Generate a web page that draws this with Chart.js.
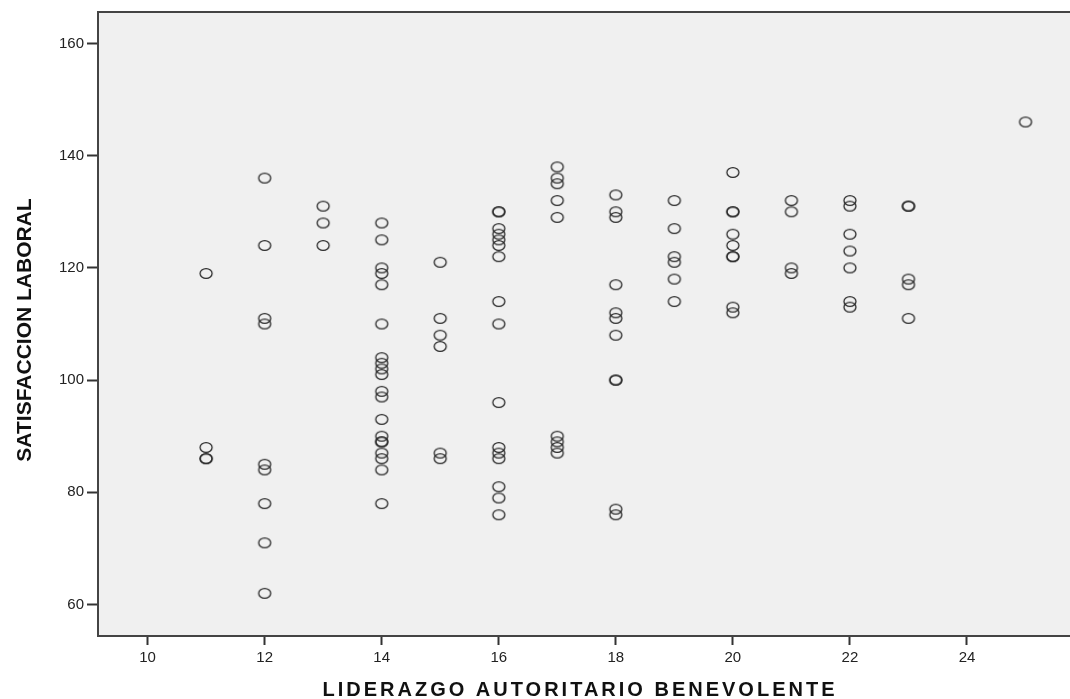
<!DOCTYPE html>
<html lang="es">
<head>
  <meta charset="UTF-8" />
  <title>Satisfaccion laboral vs liderazgo</title>
  <script src="https://cdn.jsdelivr.net/npm/chart.js"></script>
  <style>
    body {
      margin: 0;
      background: #ffffff;
    }
    .wrap {
      width: 1070px;
      height: 699px;
    }
  </style>
</head>
<body>
  <div class="wrap">
    <canvas id="scatter"></canvas>
  </div>

  <script>
    // liderazgo autoritario benevolente (x) and the satisfaccion scores seen at each x
    const xLevels = [11, 12, 13, 14, 15, 16, 17, 18, 19, 20, 21, 22, 23, 25];
    const satisfaction = [
      [119, 88, 86, 86],
      [136, 124, 111, 110, 85, 84, 78, 71, 62],
      [131, 128, 124],
      [128, 125, 120, 119, 117, 110, 104, 103, 102, 101, 98, 97, 93, 90, 89, 89, 87, 86, 84, 78],
      [121, 111, 108, 106, 87, 86],
      [130, 130, 127, 126, 125, 124, 122, 114, 110, 96, 88, 87, 86, 81, 79, 76],
      [138, 136, 135, 132, 129, 90, 89, 88, 87],
      [133, 130, 129, 117, 112, 111, 108, 100, 100, 77, 76],
      [132, 127, 122, 121, 118, 114],
      [137, 130, 130, 126, 124, 122, 122, 113, 112],
      [132, 130, 120, 119],
      [132, 131, 126, 123, 120, 114, 113],
      [131, 131, 118, 117, 111],
      [146]
    ];
    const xTicks = [10, 12, 14, 16, 18, 20, 22, 24];
    const yTicks = [60, 80, 100, 120, 140, 160];

    const xTitle = 'LIDERAZGO AUTORITARIO BENEVOLENTE';
    const yTitle = 'SATISFACCION LABORAL';

    const points = [];
    xLevels.forEach((x, i) => {
      satisfaction[i].forEach(y => points.push({ x: x, y: y }));
    });

    // SPSS style open marker, slightly wider than tall
    const marker = document.createElement('canvas');
    marker.width = 16;
    marker.height = 13;
    const mctx = marker.getContext('2d');
    mctx.strokeStyle = '#2b2b2b';
    mctx.lineWidth = 1.3;
    mctx.beginPath();
    mctx.ellipse(8, 6.5, 6, 4.8, 0, 0, Math.PI * 2);
    mctx.stroke();

    const framePlugin = {
      id: 'frame',
      beforeDatasetsDraw(chart) {
        const a = chart.chartArea;
        const ctx = chart.ctx;
        ctx.save();
        ctx.fillStyle = '#f0f0f0';
        ctx.fillRect(a.left, a.top, a.right - a.left, a.bottom - a.top);
        ctx.restore();
      },
      afterDraw(chart) {
        const a = chart.chartArea;
        const ctx = chart.ctx;
        ctx.save();
        ctx.strokeStyle = '#444';
        ctx.lineWidth = 2;
        ctx.strokeRect(a.left, a.top, a.right - a.left + 2, a.bottom - a.top);

        ctx.fillStyle = '#111';
        ctx.textAlign = 'center';
        ctx.textBaseline = 'alphabetic';
        ctx.font = 'bold 20px "Liberation Sans", Arial, sans-serif';
        ctx.letterSpacing = '3px';
        ctx.fillText(xTitle, 580, 696);

        ctx.letterSpacing = '0px';
        ctx.font = 'bold 21px "Liberation Sans", Arial, sans-serif';
        ctx.translate(31, (a.top + a.bottom) / 2 + 6);
        ctx.rotate(-Math.PI / 2);
        ctx.fillText(yTitle, 0, 0);
        ctx.restore();
      }
    };

    new Chart(document.getElementById('scatter'), {
      type: 'scatter',
      data: {
        datasets: [{
          label: yTitle,
          data: points,
          pointStyle: marker,
          pointRadius: 6,
          pointHoverRadius: 6
        }]
      },
      options: {
        responsive: true,
        maintainAspectRatio: false,
        animation: false,
        layout: { autoPadding: false, padding: { left: 0, top: 12, right: 0, bottom: 0 } },
        plugins: {
          legend: { display: false },
          tooltip: { enabled: false }
        },
        scales: {
          x: {
            type: 'linear',
            min: 9.153,
            max: 25.76,
            afterBuildTicks: s => { s.ticks = xTicks.map(v => ({ value: v })); },
            afterFit: s => { s.height = 63; },
            border: { display: false },
            grid: {
              drawOnChartArea: false,
              tickLength: 9,
              tickColor: '#333',
              tickWidth: 2
            },
            ticks: {
              color: '#222',
              padding: 4,
              font: { family: '"Liberation Sans", Arial, sans-serif', size: 15 }
            }
          },
          y: {
            type: 'linear',
            min: 54.4,
            max: 165.6,
            afterBuildTicks: s => { s.ticks = yTicks.map(v => ({ value: v })); },
            afterFit: s => { s.width = 98; },
            border: { display: false },
            grid: {
              drawOnChartArea: false,
              tickLength: 11,
              tickColor: '#333',
              tickWidth: 2
            },
            ticks: {
              color: '#222',
              padding: 3,
              font: { family: '"Liberation Sans", Arial, sans-serif', size: 15 }
            }
          }
        }
      },
      plugins: [framePlugin]
    });
  </script>
</body>
</html>
